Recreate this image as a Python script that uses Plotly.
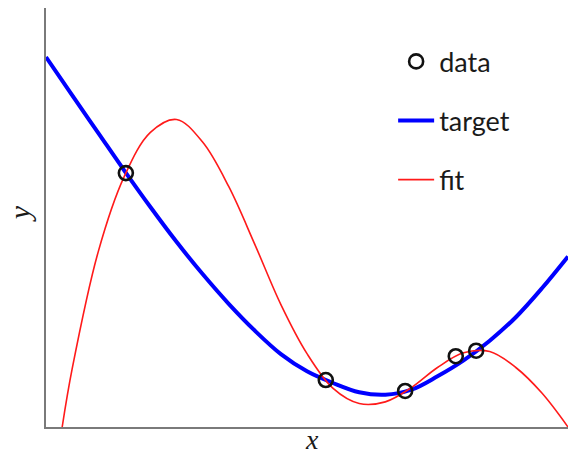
import plotly.graph_objects as go

# Observed samples (x, y) in normalised units
data_x = [0.153, 0.536, 0.688, 0.785, 0.824]
data_y = [0.606, 0.112, 0.086, 0.169, 0.182]

target_x = [0.00, 0.05, 0.10, 0.15, 0.20, 0.25, 0.30, 0.35, 0.40, 0.45, 0.50,
            0.55, 0.60, 0.65, 0.70, 0.75, 0.80, 0.85, 0.90, 0.95, 1.00]
target_y = [0.883, 0.792, 0.702, 0.612, 0.525, 0.442, 0.365, 0.294, 0.230,
            0.174, 0.133, 0.105, 0.083, 0.077, 0.089, 0.121, 0.159, 0.206,
            0.262, 0.331, 0.407]

fit_x = [0.031, 0.05, 0.10, 0.15, 0.20, 0.25, 0.30, 0.35, 0.40, 0.45, 0.50,
         0.55, 0.60, 0.65, 0.70, 0.75, 0.80, 0.85, 0.90, 0.95, 1.00]
fit_y = [0.000, 0.138, 0.418, 0.598, 0.703, 0.734, 0.680, 0.574, 0.436, 0.292,
         0.175, 0.092, 0.056, 0.060, 0.094, 0.142, 0.177, 0.180, 0.142, 0.081,
         0.000]

fig = go.Figure()
fig.add_trace(go.Scatter(
    x=target_x, y=target_y, mode="lines", name="target", legendrank=2,
    legendgroup="b", hoverinfo="skip",
    line=dict(color="#0000ff", width=4, shape="spline", smoothing=1.0)))
fig.add_trace(go.Scatter(
    x=fit_x, y=fit_y, mode="lines", name="fit", legendrank=3, legendgroup="c",
    hoverinfo="skip",
    line=dict(color="#ff1a1a", width=1.6, shape="spline", smoothing=1.0)))
fig.add_trace(go.Scatter(
    x=data_x, y=data_y, mode="markers", name="data", legendrank=1,
    legendgroup="a", hoverinfo="skip",
    marker=dict(symbol="circle-open", size=14, color="#111111",
                line=dict(width=2.6, color="#111111")),
    cliponaxis=False))

fig.update_layout(
    width=568, height=456,
    margin=dict(l=46, r=0, t=8, b=29),
    paper_bgcolor="white", plot_bgcolor="white",
    showlegend=True,
    legend=dict(x=0.665, y=0.93, xanchor="left", yanchor="top",
                font=dict(family="Lato", size=27, color="#1a1a1a"),
                tracegroupgap=21, itemwidth=36, bgcolor="rgba(0,0,0,0)"),
    xaxis=dict(range=[0, 1], showgrid=False, zeroline=False, showticklabels=False,
               ticks="", showline=True, linecolor="#7a7a7a", linewidth=1.5),
    yaxis=dict(range=[0, 1], showgrid=False, zeroline=False, showticklabels=False,
               ticks="", showline=True, linecolor="#7a7a7a", linewidth=1.5),
    annotations=[
        dict(text="<i>x</i>", xref="paper", yref="paper", x=0.51, y=-0.031,
             xanchor="center", yanchor="middle", showarrow=False,
             font=dict(family="Liberation Serif", size=28, color="#1a1a1a")),
        dict(text="<i>y</i>", xref="paper", yref="paper", x=-0.052, y=0.51,
             xanchor="center", yanchor="middle", showarrow=False, textangle=-90,
             font=dict(family="Liberation Serif", size=30, color="#1a1a1a")),
    ],
)

fig.write_html("out.html", config={"displayModeBar": False},
               post_script="document.body.style.margin='0';"
                           "document.body.style.overflow='hidden';")
